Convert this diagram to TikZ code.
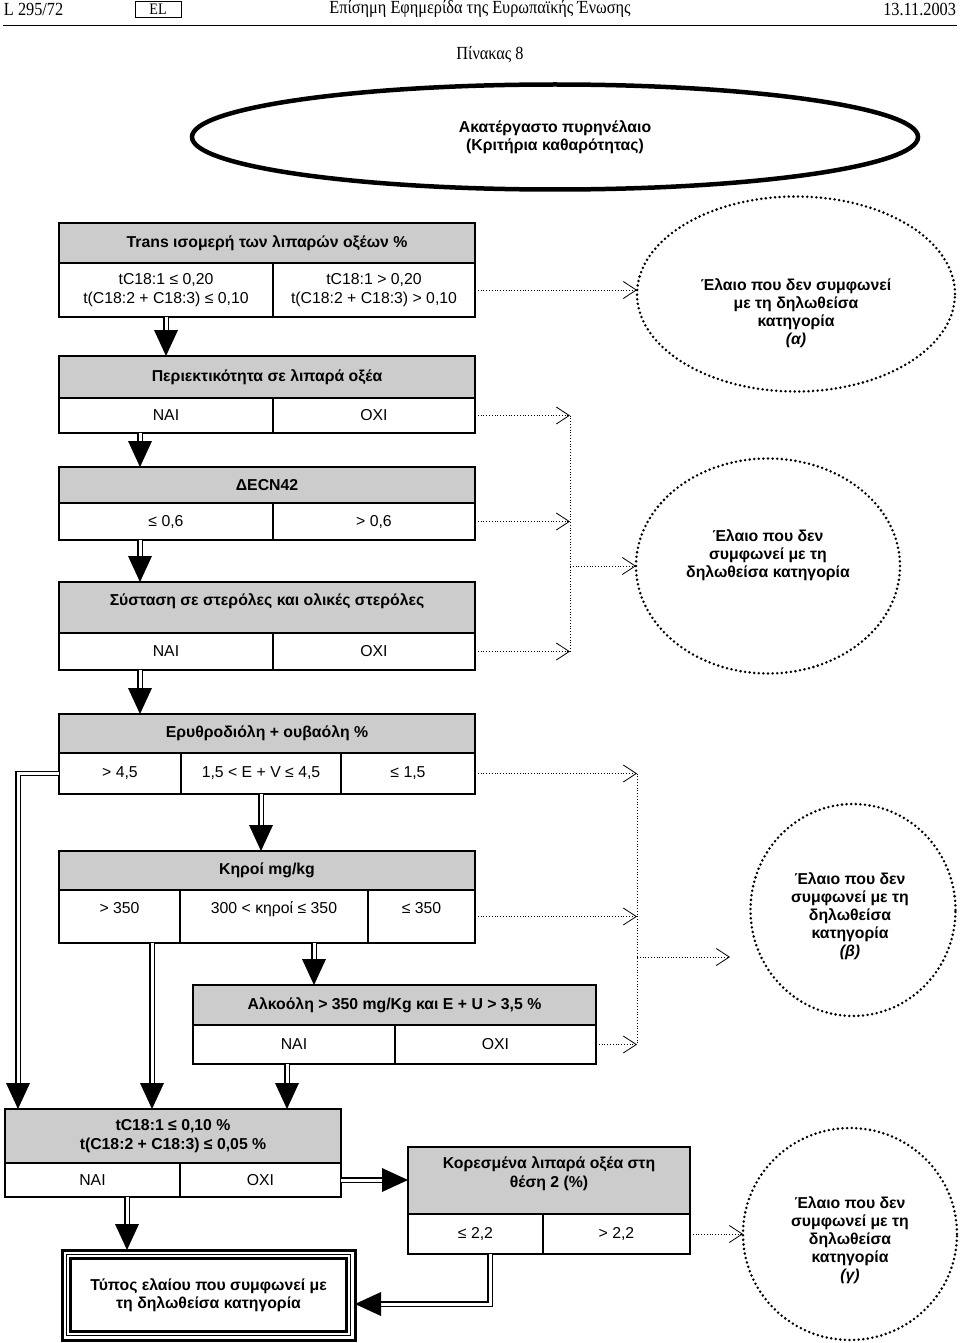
\documentclass[tikz,border=0pt]{standalone}
\usepackage{fontspec}
\setmainfont{Liberation Sans}
\newfontfamily\ojfont[FakeStretch=0.88]{Liberation Serif}
\usetikzlibrary{positioning,shapes.geometric,arrows.meta,decorations.markings}
\definecolor{hdrgray}{RGB}{204,204,204}

\begin{document}
\begin{tikzpicture}[
  x=1pt, y=-1pt,
  every node/.style={outer sep=0pt, inner sep=2pt, align=center, font=\fontsize{15.8}{18.5}\selectfont},
  oj/.style={font=\ojfont\fontsize{18.5}{20}\selectfont},
  hdr/.style={draw, line width=1.2pt, fill=hdrgray, font=\bfseries\fontsize{15.8}{18.5}\selectfont},
  cell/.style={draw, line width=1.2pt, fill=white},
  rej/.style={ellipse, draw, line width=2.8pt, dash pattern=on 0pt off 4.6pt, line cap=round},
  rejtxt/.style={font=\bfseries\fontsize{15.8}{18}\selectfont},
  dotarr/.style={dotted, line width=0.8pt, -{Straight Barb[length=13pt,width=17pt]}},
  dotline/.style={dotted, line width=0.8pt},
  dblarr/.style={double, double distance=3pt, line width=1.2pt, shorten >=8pt,
    decoration={markings, mark=at position 1 with {\fill (0,0) -- (-26pt,12pt) -- (-26pt,-12pt) -- cycle;}},
    postaction=decorate}
]
\useasboundingbox (0,0) rectangle (960,1343);

% page head
\node[oj, anchor=west] (ojref) at (2,9) {L 295/72};
\node[oj, draw, line width=0.8pt, minimum width=46pt, minimum height=16pt, font=\ojfont\fontsize{16}{18}\selectfont] (ojlang) at (158,9) {EL};
\node[oj] (ojtitle) at (480,9) {Επίσημη Εφημερίδα της Ευρωπαϊκής Ένωσης};
\node[oj, anchor=east] (ojdate) at (958,9) {13.11.2003};
\draw[line width=0.8pt] (3,25) -- (957,25);
\node[oj] (tabno) at (490,55) {Πίνακας 8};

% start
\node[ellipse, draw, line width=4.5pt, minimum width=726pt, minimum height=105pt, font=\bfseries\fontsize{15.8}{18.5}\selectfont] (raw) at (555,137) {Ακατέργαστο πυρηνέλαιο\\(Κριτήρια καθαρότητας)};

% test boxes
\node[hdr, minimum width=416pt, minimum height=40pt] (trans) at (267,243) {Trans ισομερή των λιπαρών οξέων \%};
\node[cell, minimum width=214pt, minimum height=54pt, below right=0pt and 0pt of trans.south west] (transL) {tC18:1 ≤ 0,20\\t(C18:2 + C18:3) ≤ 0,10};
\node[cell, minimum width=202pt, minimum height=54pt, right=0pt of transL] (transR) {tC18:1 > 0,20\\t(C18:2 + C18:3) > 0,10};

\node[hdr, minimum width=416pt, minimum height=42pt] (fat) at (267,377) {Περιεκτικότητα σε λιπαρά οξέα};
\node[cell, minimum width=214pt, minimum height=35pt, below right=0pt and 0pt of fat.south west] (fatL) {ΝΑΙ};
\node[cell, minimum width=202pt, minimum height=35pt, right=0pt of fatL] (fatR) {ΟΧΙ};

\node[hdr, minimum width=416pt, minimum height=36pt] (ecn) at (267,485) {ΔECN42};
\node[cell, minimum width=214pt, minimum height=37pt, below right=0pt and 0pt of ecn.south west] (ecnL) {≤ 0,6};
\node[cell, minimum width=202pt, minimum height=37pt, right=0pt of ecnL] (ecnR) {> 0,6};

\node[hdr, minimum width=416pt, minimum height=51pt, text depth=16pt] (ster) at (267,607.5) {Σύσταση σε στερόλες και ολικές στερόλες};
\node[cell, minimum width=214pt, minimum height=37pt, below right=0pt and 0pt of ster.south west] (sterL) {ΝΑΙ};
\node[cell, minimum width=202pt, minimum height=37pt, right=0pt of sterL] (sterR) {ΟΧΙ};

\node[hdr, minimum width=416pt, minimum height=39pt] (ery) at (267,733.5) {Ερυθροδιόλη + ουβαόλη \%};
\node[cell, minimum width=122pt, minimum height=41pt, below right=0pt and 0pt of ery.south west] (eryL) {> 4,5};
\node[cell, minimum width=160pt, minimum height=41pt, right=0pt of eryL] (eryM) {1,5 < E + V ≤ 4,5};
\node[cell, minimum width=134pt, minimum height=41pt, right=0pt of eryM] (eryR) {≤ 1,5};

\node[hdr, minimum width=416pt, minimum height=39pt] (wax) at (267,870.5) {Κηροί mg/kg};
\node[cell, minimum width=121pt, minimum height=53pt, text depth=18pt, below right=0pt and 0pt of wax.south west] (waxL) {> 350};
\node[cell, minimum width=188pt, minimum height=53pt, text depth=18pt, right=0pt of waxL] (waxM) {300 < κηροί ≤ 350};
\node[cell, minimum width=107pt, minimum height=53pt, text depth=18pt, right=0pt of waxM] (waxR) {≤ 350};

\node[hdr, minimum width=403pt, minimum height=40pt] (alc) at (394.5,1005) {Αλκοόλη > 350 mg/Kg και E + U > 3,5 \%};
\node[cell, minimum width=202pt, minimum height=39pt, below right=0pt and 0pt of alc.south west] (alcL) {ΝΑΙ};
\node[cell, minimum width=201pt, minimum height=39pt, right=0pt of alcL] (alcR) {ΟΧΙ};

\node[hdr, minimum width=336pt, minimum height=54pt] (tcc) at (173,1136) {tC18:1 ≤ 0,10 \%\\t(C18:2 + C18:3) ≤ 0,05 \%};
\node[cell, minimum width=175pt, minimum height=34pt, below right=0pt and 0pt of tcc.south west] (tccL) {ΝΑΙ};
\node[cell, minimum width=161pt, minimum height=34pt, right=0pt of tccL] (tccR) {ΟΧΙ};

\node[hdr, minimum width=282pt, minimum height=67pt, text depth=17pt] (sat) at (549,1180.5) {Κορεσμένα λιπαρά οξέα στη\\θέση 2 (\%)};
\node[cell, minimum width=135pt, minimum height=40pt, below right=0pt and 0pt of sat.south west] (satL) {≤ 2,2};
\node[cell, minimum width=147pt, minimum height=40pt, right=0pt of satL] (satR) {> 2,2};

% result
\node[draw, line width=3pt, minimum width=293pt, minimum height=90pt, font=\bfseries\fontsize{15.8}{18.5}\selectfont] (fin) at (208.5,1295) {Τύπος ελαίου που συμφωνεί με\\τη δηλωθείσα κατηγορία};
\draw[line width=1pt] ([shift={(4.5,4.5)}]fin.north west) rectangle ([shift={(-4.5,-4.5)}]fin.south east);
\draw[line width=2.5pt] ([shift={(8.5,8.5)}]fin.north west) rectangle ([shift={(-8.5,-8.5)}]fin.south east);

% rejections
\node[rej, minimum width=318pt, minimum height=195pt] (ea) at (796,294) {};
\node[rejtxt] (eaT) at (796,313) {Έλαιο που δεν συμφωνεί\\με τη δηλωθείσα\\κατηγορία\\\textit{(α)}};
\node[rej, minimum width=264pt, minimum height=215pt] (eb) at (768,566) {};
\node[rejtxt] (ebT) at (768,555) {Έλαιο που δεν\\συμφωνεί με τη\\δηλωθείσα κατηγορία};
\node[rej, minimum width=205pt, minimum height=212pt] (ec) at (853,910) {};
\node[rejtxt] (ecT) at (850,916) {Έλαιο που δεν\\συμφωνεί με τη\\δηλωθείσα\\κατηγορία\\\textit{(β)}};
\node[rej, minimum width=214pt, minimum height=212pt] (ed) at (850,1234) {};
\node[rejtxt] (edT) at (850,1240) {Έλαιο που δεν\\συμφωνεί με τη\\δηλωθείσα\\κατηγορία\\\textit{(γ)}};

% columns for the connectors
\coordinate (spA) at (570,0);
\coordinate (spB) at (637,0);
\coordinate (ecIn) at (730,957);
\coordinate (colA) at (140,0);
\coordinate (colC) at (314,0);
\coordinate (colD) at (18,0);
\coordinate (colE) at (152,0);
\coordinate (colF) at (287,0);
\coordinate (colG) at (127,0);
\coordinate (colH) at (490,0);

% dotted: rejected
\draw[dotarr] (transR.east) -- (transR.east -| ea.west);
\draw[dotarr] (fatR.east) -- (fatR.east -| spA);
\draw[dotarr] (ecnR.east) -- (ecnR.east -| spA);
\draw[dotarr] (sterR.east) -- (sterR.east -| spA);
\draw[dotline] (fatR.east -| spA) -- (sterR.east -| spA);
\draw[dotarr] (eb.west -| spA) -- (eb.west);
\draw[dotarr] (eryR.east) -- (eryR.east -| spB);
\draw[dotarr] (waxR.east) -- (waxR.east -| spB);
\draw[dotarr] (alcR.east) -- (alcR.east -| spB);
\draw[dotline] (eryR.east -| spB) -- (alcR.east -| spB);
\draw[dotarr] (spB |- ecIn) -- (ecIn);
\draw[dotarr] (satR.east) -- (satR.east -| ed.west);

% double: go on
\draw[dblarr] (transL.south) -- (transL.south |- fat.north);
\draw[dblarr] (colA |- fatL.south) -- (colA |- ecn.north);
\draw[dblarr] (colA |- ecnL.south) -- (colA |- ster.north);
\draw[dblarr] (colA |- sterL.south) -- (colA |- ery.north);
\draw[dblarr] (eryM.south) -- (eryM.south |- wax.north);
\draw[dblarr] (colC |- waxM.south) -- (colC |- alc.north);
\draw[dblarr] (eryL.west) -| (colD |- tcc.north);
\draw[dblarr] (colE |- waxL.south) -- (colE |- tcc.north);
\draw[dblarr] (colF |- alcL.south) -- (colF |- tcc.north);
\draw[dblarr] (tccR.east) -- (tccR.east -| sat.west);
\draw[dblarr] (colG |- tccL.south) -- (colG |- fin.north);
\draw[dblarr] (colH |- satL.south) |- ([yshift=-9pt]fin.east);
\end{tikzpicture}
\end{document}
